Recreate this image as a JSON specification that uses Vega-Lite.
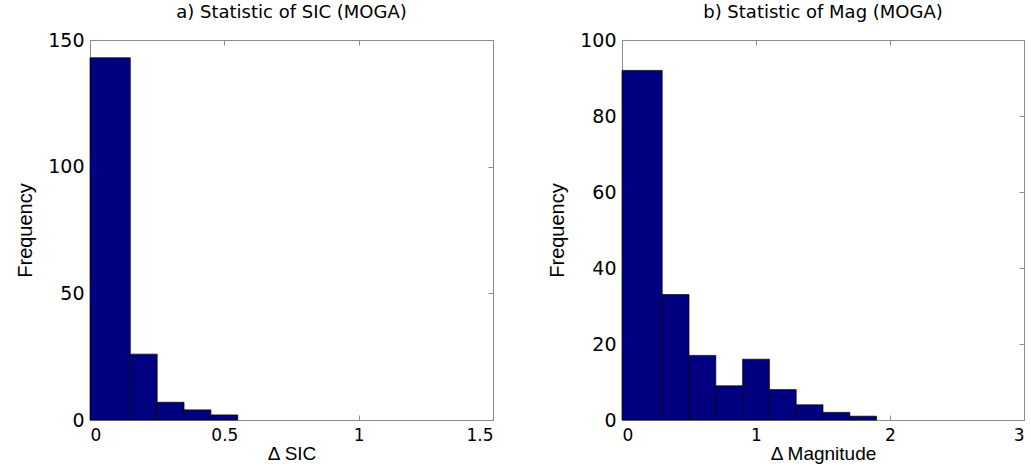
{
  "$schema": "https://vega.github.io/schema/vega-lite/v6.json",
  "background": "white",
  "padding": {"left": 15, "top": 3, "right": 2, "bottom": 0},
  "config": {
    "font": "DejaVu Sans",
    "view": {"stroke": "#8c8c8c", "strokeWidth": 1},
    "axis": {
      "grid": false,
      "domainColor": "#8c8c8c",
      "tickColor": "#8c8c8c",
      "tickSize": -5,
      "labelColor": "black",
      "labelFont": "DejaVu Sans",
      "titleFontWeight": "normal",
      "titleColor": "black",
      "titleFont": "Liberation Sans"
    },
    "axisY": {"labelFontSize": 19, "labelPadding": 11, "titleFontSize": 20},
    "axisX": {"labelFontSize": 17, "labelPadding": 12, "titleFontSize": 19},
    "title": {"fontSize": 18, "fontWeight": "normal", "font": "DejaVu Sans", "anchor": "middle", "color": "black", "offset": 9},
    "concat": {"spacing": 53}
  },
  "hconcat": [
    {
      "title": "a) Statistic of SIC (MOGA)",
      "width": 403,
      "height": 380,
      "data": {"values": [
        {"x0": 0, "x1": 0.15, "count": 143},
        {"x0": 0.15, "x1": 0.25, "count": 26},
        {"x0": 0.25, "x1": 0.35, "count": 7},
        {"x0": 0.35, "x1": 0.45, "count": 4},
        {"x0": 0.45, "x1": 0.55, "count": 2}
      ]},
      "layer": [
        {
          "mark": {"type": "bar", "color": "#000080", "stroke": "black", "strokeWidth": 0.7},
          "encoding": {
            "x": {"field": "x0", "type": "quantitative", "scale": {"domain": [0, 1.5], "nice": false},
                  "axis": {"values": [0, 0.5, 1, 1.5], "format": "~g", "title": "Δ SIC", "titlePadding": 1}},
            "x2": {"field": "x1"},
            "y": {"field": "count", "type": "quantitative", "scale": {"domain": [0, 150], "nice": false},
                  "axis": {"values": [0, 50, 100, 150], "title": "Frequency", "titlePadding": 12}},
            "y2": {"datum": 0}
          }
        },
        {
          "mark": {"type": "bar", "opacity": 0},
          "encoding": {
            "x": {"field": "x0", "type": "quantitative",
                  "axis": {"orient": "top", "values": [0, 0.5, 1, 1.5], "labels": false, "title": null}},
            "x2": {"field": "x1"},
            "y": {"field": "count", "type": "quantitative",
                  "axis": {"orient": "right", "values": [0, 50, 100, 150], "labels": false, "title": null}},
            "y2": {"datum": 0}
          }
        }
      ],
      "resolve": {"axis": {"x": "independent", "y": "independent"}}
    },
    {
      "title": "b) Statistic of Mag (MOGA)",
      "width": 402,
      "height": 380,
      "data": {"values": [
        {"x0": 0, "x1": 0.3, "count": 92},
        {"x0": 0.3, "x1": 0.5, "count": 33},
        {"x0": 0.5, "x1": 0.7, "count": 17},
        {"x0": 0.7, "x1": 0.9, "count": 9},
        {"x0": 0.9, "x1": 1.1, "count": 16},
        {"x0": 1.1, "x1": 1.3, "count": 8},
        {"x0": 1.3, "x1": 1.5, "count": 4},
        {"x0": 1.5, "x1": 1.7, "count": 2},
        {"x0": 1.7, "x1": 1.9, "count": 1}
      ]},
      "layer": [
        {
          "mark": {"type": "bar", "color": "#000080", "stroke": "black", "strokeWidth": 0.7},
          "encoding": {
            "x": {"field": "x0", "type": "quantitative", "scale": {"domain": [0, 3], "nice": false},
                  "axis": {"values": [0, 1, 2, 3], "format": "~g", "title": "Δ Magnitude", "titlePadding": 1}},
            "x2": {"field": "x1"},
            "y": {"field": "count", "type": "quantitative", "scale": {"domain": [0, 100], "nice": false},
                  "axis": {"values": [0, 20, 40, 60, 80, 100], "title": "Frequency", "titlePadding": 12}},
            "y2": {"datum": 0}
          }
        },
        {
          "mark": {"type": "bar", "opacity": 0},
          "encoding": {
            "x": {"field": "x0", "type": "quantitative",
                  "axis": {"orient": "top", "values": [0, 1, 2, 3], "labels": false, "title": null}},
            "x2": {"field": "x1"},
            "y": {"field": "count", "type": "quantitative",
                  "axis": {"orient": "right", "values": [0, 20, 40, 60, 80, 100], "labels": false, "title": null}},
            "y2": {"datum": 0}
          }
        }
      ],
      "resolve": {"axis": {"x": "independent", "y": "independent"}}
    }
  ]
}
